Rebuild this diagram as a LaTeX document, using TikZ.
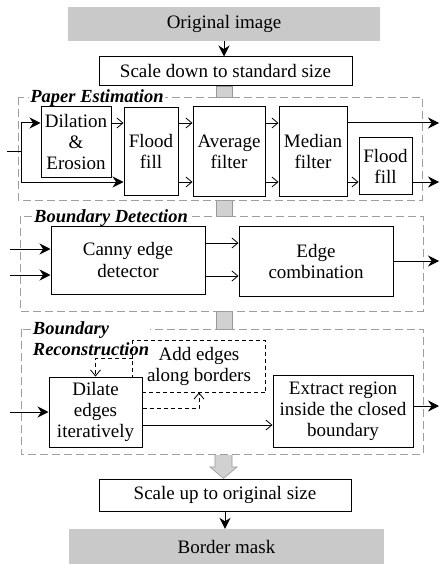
\documentclass[tikz,border=0pt]{standalone}
\usepackage{fontspec}
\setmainfont{Liberation Serif}
\usetikzlibrary{arrows.meta}

\begin{document}
\begin{tikzpicture}[x=1pt,y=-1pt,
    every node/.style={font=\fontsize{19}{21}\selectfont},
    box/.style={draw, line width=1pt, fill=white, align=center, inner sep=0pt},
    greybox/.style={fill=black!21, align=center, inner sep=0pt},
    group/.style={draw=black!38, line width=0.9pt, dash pattern=on 8pt off 4pt},
    grouptitle/.style={fill=white, inner sep=1pt, align=left,
        font=\fontsize{18.5}{21}\selectfont\bfseries\itshape},
    flow/.style={line width=1pt, -{Stealth[length=11pt,width=11pt]}},
    thinflow/.style={line width=0.8pt, -{Straight Barb[length=6pt,width=10pt]}},
    dline/.style={dash pattern=on 4pt off 3pt},
    link/.style={fill=black!18, draw=black!40, line width=0.6pt}]

    \useasboundingbox (0,0) rectangle (439,564);

    % links between the stages
    \draw[link] (216,86) rectangle (232,97);
    \draw[link] (216,200) rectangle (232,216);
    \draw[link] (216,311) rectangle (232,329);

    % stage frames
    \draw[group] (18,97) rectangle (422,200);
    \draw[group] (20,216) rectangle (423,311);
    \draw[group] (21,329) rectangle (423,454);
    \node[grouptitle] (peTitle) at (97,98) {Paper Estimation};
    \node[grouptitle] (bdTitle) at (111,218) {Boundary Detection};
    \node[grouptitle] (brTitle) at (91,338.5) {Boundary\\Reconstruction};

    % top and bottom
    \node[greybox, minimum width=312pt, minimum height=34pt] (orig) at (224,24) {Original image};
    \node[box, minimum width=253pt, minimum height=29pt] (scaledown) at (225.5,71.5) {Scale down to standard size};
    \node[box, minimum width=252pt, minimum height=32pt] (scaleup) at (225,495) {Scale up to original size};
    \node[greybox, minimum width=315pt, minimum height=35pt] (mask) at (226.5,546.5) {Border mask};

    % paper estimation
    \node[box, minimum width=70pt, minimum height=70pt] (dil) at (76,142) {Dilation\\\&\\Erosion};
    \node[box, minimum width=54pt, minimum height=87pt] (ff1) at (151,151.5) {Flood\\fill};
    \node[box, minimum width=72pt, minimum height=89pt] (avg) at (229,151.5) {Average\\filter};
    \node[box, minimum width=68pt, minimum height=89pt] (med) at (313,151.5) {Median\\filter};
    \node[box, minimum width=53pt, minimum height=56pt] (ff2) at (385.5,166) {Flood\\fill};

    % boundary detection
    \node[box, minimum width=154pt, minimum height=68pt] (canny) at (128,260) {Canny edge\\detector};
    \node[box, minimum width=154pt, minimum height=70pt] (edgecomb) at (316,261) {Edge\\combination};

    % boundary reconstruction
    \node[box, draw=none, fill=none, minimum width=132pt, minimum height=51pt] (addedge) at (199,366.5) {Add edges\\along borders};
    \draw[line width=1pt, dline] (addedge.south west) rectangle (addedge.north east);
    \node[box, minimum width=93pt, minimum height=70pt] (dilate) at (95.5,412) {Dilate\\edges\\iteratively};
    \node[box, minimum width=140pt, minimum height=72pt] (extract) at (343,411) {Extract region\\inside the closed\\boundary};

    % rows and ends
    \coordinate (outX) at (439,0);
    \coordinate (peA) at (0,123);
    \coordinate (peB) at (0,182);
    \coordinate (peIn) at (7,152);
    \coordinate (peSplit) at (21,152);
    \coordinate (bdInA) at (10,249);
    \coordinate (bdInB) at (10,275);
    \coordinate (bdA) at (0,243);
    \coordinate (bdB) at (0,276);
    \coordinate (brIn) at (10,412);
    \coordinate (brA) at (0,358);
    \coordinate (brB) at (0,408);
    \coordinate (brC) at (0,425);
    \coordinate (brD) at (0,406);

    \draw[flow] (orig.south) -- (orig.south |- scaledown.north);

    \draw[line width=1pt] (peIn) -- (peSplit);
    \draw[flow] (peSplit) |- (dil.west |- peA);
    \draw[flow] (peSplit) |- (ff1.west |- peB);
    \draw[thinflow] (dil.east |- peA) -- (ff1.west |- peA);
    \draw[thinflow] (ff1.east |- peA) -- (avg.west |- peA);
    \draw[thinflow] (ff1.east |- peB) -- (avg.west |- peB);
    \draw[thinflow] (avg.east |- peA) -- (med.west |- peA);
    \draw[thinflow] (avg.east |- peB) -- (med.west |- peB);
    \draw[flow] (med.east |- peA) -- (outX |- peA);
    \draw[thinflow] (med.east |- peB) -- (ff2.west |- peB);
    \draw[flow] (ff2.east |- peB) -- (outX |- peB);

    \draw[flow] (bdInA) -- (canny.west |- bdInA);
    \draw[flow] (bdInB) -- (canny.west |- bdInB);
    \draw[thinflow] (canny.east |- bdA) -- (edgecomb.west |- bdA);
    \draw[thinflow] (canny.east |- bdB) -- (edgecomb.west |- bdB);
    \draw[flow] (edgecomb.east) -- (outX |- edgecomb.east);

    \draw[flow] (brIn) -- (dilate.west |- brIn);
    \draw[thinflow, dline] (addedge.west |- brA) -| (dilate.north);
    \draw[thinflow, dline] (dilate.east |- brB) -| (addedge.south);
    \draw[thinflow] (dilate.east |- brC) -- (extract.west |- brC);
    \draw[flow] (extract.east |- brD) -- (outX |- brD);

    % big arrow down
    \draw[link] (215,455) -- (215,467) -- (210,467) -- (223.5,478.5)
        -- (237,467) -- (232,467) -- (232,455);

    \draw[flow] (scaleup.south) -- (scaleup.south |- mask.north);

\end{tikzpicture}
\end{document}
